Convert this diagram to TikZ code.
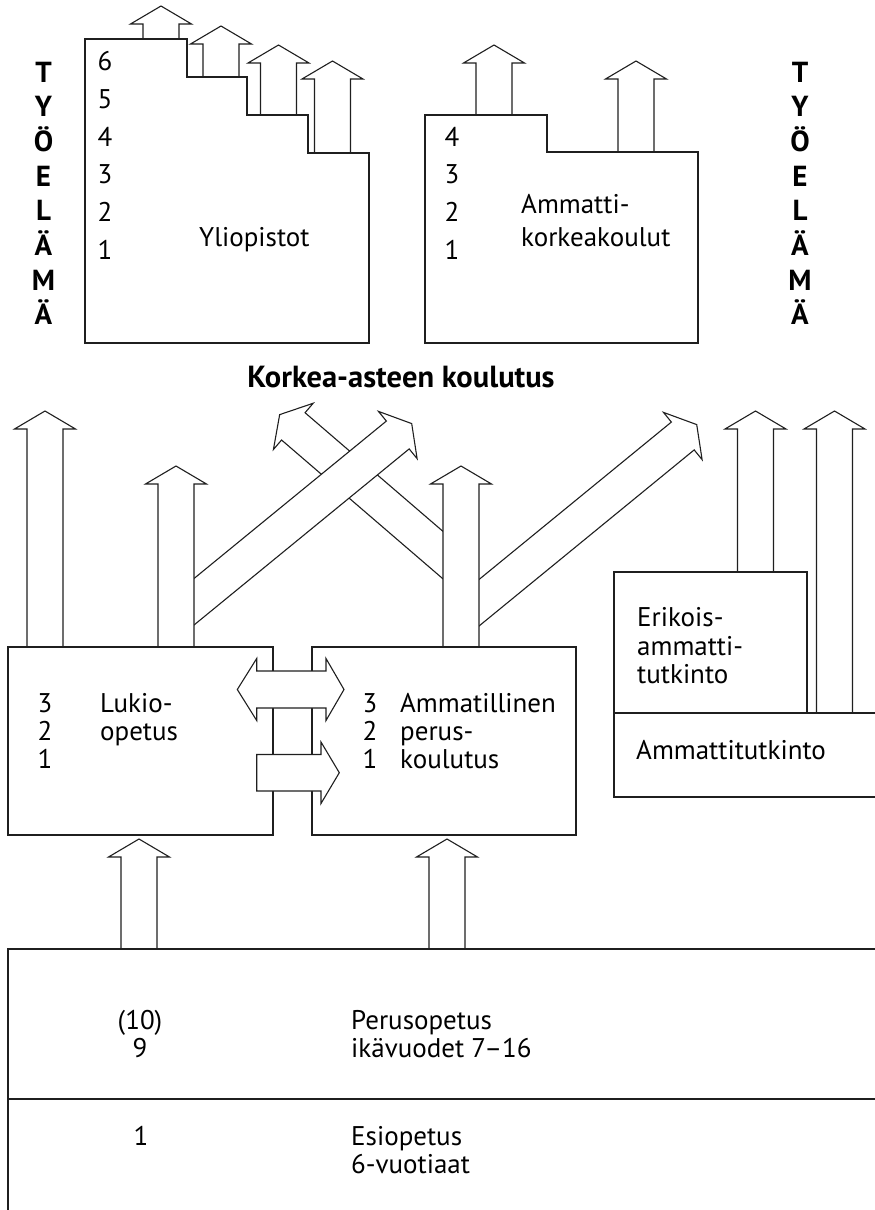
\documentclass[tikz,border=0pt]{standalone}
\usepackage{fontspec}
\setmainfont{PT Sans}
\newcommand\fatarr[4]{%
  \begin{scope}[shift={(#1,#2)},rotate=#4]
    \draw[farrow] (-18,0) -- (-18,-#3) -- (-30.5,-#3) -- (0,-#3-18) -- (30.5,-#3) -- (18,-#3) -- (18,0);
  \end{scope}}
\begin{document}
\begin{tikzpicture}[x=1pt,y=-1pt,
  box/.style={line width=2.4pt, draw=black!88},
  farrow/.style={line width=1.1pt, draw=black!88, fill=white, line join=miter},
  lbl/.style={anchor=base west, inner sep=0pt, font=\fontsize{27}{30}\selectfont},
  num/.style={anchor=base, inner sep=0pt, font=\fontsize{27}{30}\selectfont},
  tyo/.style={anchor=base, inner sep=0pt, font=\fontsize{29}{31}\selectfont\bfseries},
]
\useasboundingbox (0,0) rectangle (875,1210);

% ---------- upper level: arrows then boxes
\fatarr{161}{39}{15}{0}
\fatarr{221}{77}{33}{0}
\fatarr{278.5}{115}{52}{0}
\fatarr{332.5}{153}{74}{0}
\fatarr{494}{115}{52}{0}
\fatarr{636}{152}{73}{0}
\draw[box] (85,343) -- (85,39) -- (187,39) -- (187,77) -- (247,77) -- (247,115) -- (308,115) -- (308,153) -- (369,153) -- (369,343) -- cycle;
\draw[box] (425,343) -- (425,115) -- (547,115) -- (547,152) -- (698,152) -- (698,343) -- cycle;

% upper texts
\foreach \t/\yy in {6/70,5/108,4/146,3/183.5,2/221.5,1/259}
  \node[num] (yn\t) at (105,\yy) {\t};
\foreach \t/\yy in {4/146,3/183.5,2/221.5,1/259}
  \node[num] (an\t) at (452,\yy) {\t};
\node[lbl] (ylio) at (199,246) {Yliopistot};
\node[lbl] (amk1) at (521,213) {Ammatti-};
\node[lbl] (amk2) at (521,246) {korkeakoulut};

\foreach \c [count=\i] in {T,Y,Ö,E,L,Ä,M,Ä}{
  \node[tyo] (tl\i) at (43.5,{82+(\i-1)*34.7}) {\c};
  \node[tyo] (tr\i) at (800,{82+(\i-1)*34.7}) {\c};
}

\node[anchor=base, inner sep=0pt, font=\fontsize{30.5}{32}\selectfont\bfseries] (title) at (401,387) {Korkea-asteen koulutus};

% ---------- middle level: diagonals, vertical arrows
\fatarr{461}{570.6}{221.2}{49.3}
\fatarr{176}{616.5}{286.6}{-50.7}
\fatarr{461}{617.5}{286.6}{-50.7}
\fatarr{45}{647}{218}{0}
\fatarr{176}{647}{163}{0}
\fatarr{461}{647}{163}{0}
\fatarr{755.5}{572}{143}{0}
\fatarr{834.5}{713}{284}{0}
\fatarr{139}{949}{92}{0}
\fatarr{447}{949}{92}{0}

% boxes
\draw[box] (8,647) rectangle (273,835);
\draw[box] (312,647) rectangle (576,835);
\draw[box] (614,713) rectangle (807,572);
\draw[box] (877,713) -- (614,713) -- (614,797) -- (877,797);
\draw[box] (877,949) -- (8,949) -- (8,1212);
\draw[box] (8,1099) -- (877,1099);

% horizontal arrows between Lukio and Ammatillinen
\draw[farrow] (256.7,671) -- (326,671) -- (326,658.5) -- (344,689.5) -- (326,720.5) -- (326,708) -- (256.7,708) -- (256.7,720.5) -- (237.3,689.5) -- (256.7,658.5) -- cycle;
\draw[farrow] (256.7,754.5) -- (321,754.5) -- (321,742) -- (339.3,772.7) -- (321,803.5) -- (321,791) -- (256.7,791) -- cycle;

% middle texts
\foreach \t/\yy in {3/712,2/740,1/768.5}{
  \node[num] (ln\t) at (45,\yy) {\t};
  \node[num] (mn\t) at (370,\yy) {\t};
}
\node[lbl] (luk1) at (100,712) {Lukio-};
\node[lbl] (luk2) at (100,740) {opetus};
\node[lbl] (amp1) at (400,712) {Ammatillinen};
\node[lbl] (amp2) at (400,740) {perus-};
\node[lbl] (amp3) at (400,768.5) {koulutus};
\node[lbl] (eri1) at (637,626) {Erikois-};
\node[lbl] (eri2) at (637,655) {ammatti-};
\node[lbl] (eri3) at (637,683.5) {tutkinto};
\node[lbl] (att) at (636,759) {Ammattitutkinto};

% bottom texts
\node[num] (n10) at (140,1029.3) {(10)};
\node[num] (n9) at (140,1057) {9};
\node[num] (n1) at (141,1145) {1};
\node[lbl] (per1) at (351,1029.3) {Perusopetus};
\node[lbl] (per2) at (351,1057) {ikävuodet 7–16};
\node[lbl] (esi1) at (351,1145) {Esiopetus};
\node[lbl] (esi2) at (351,1173) {6-vuotiaat};
\end{tikzpicture}
\end{document}
